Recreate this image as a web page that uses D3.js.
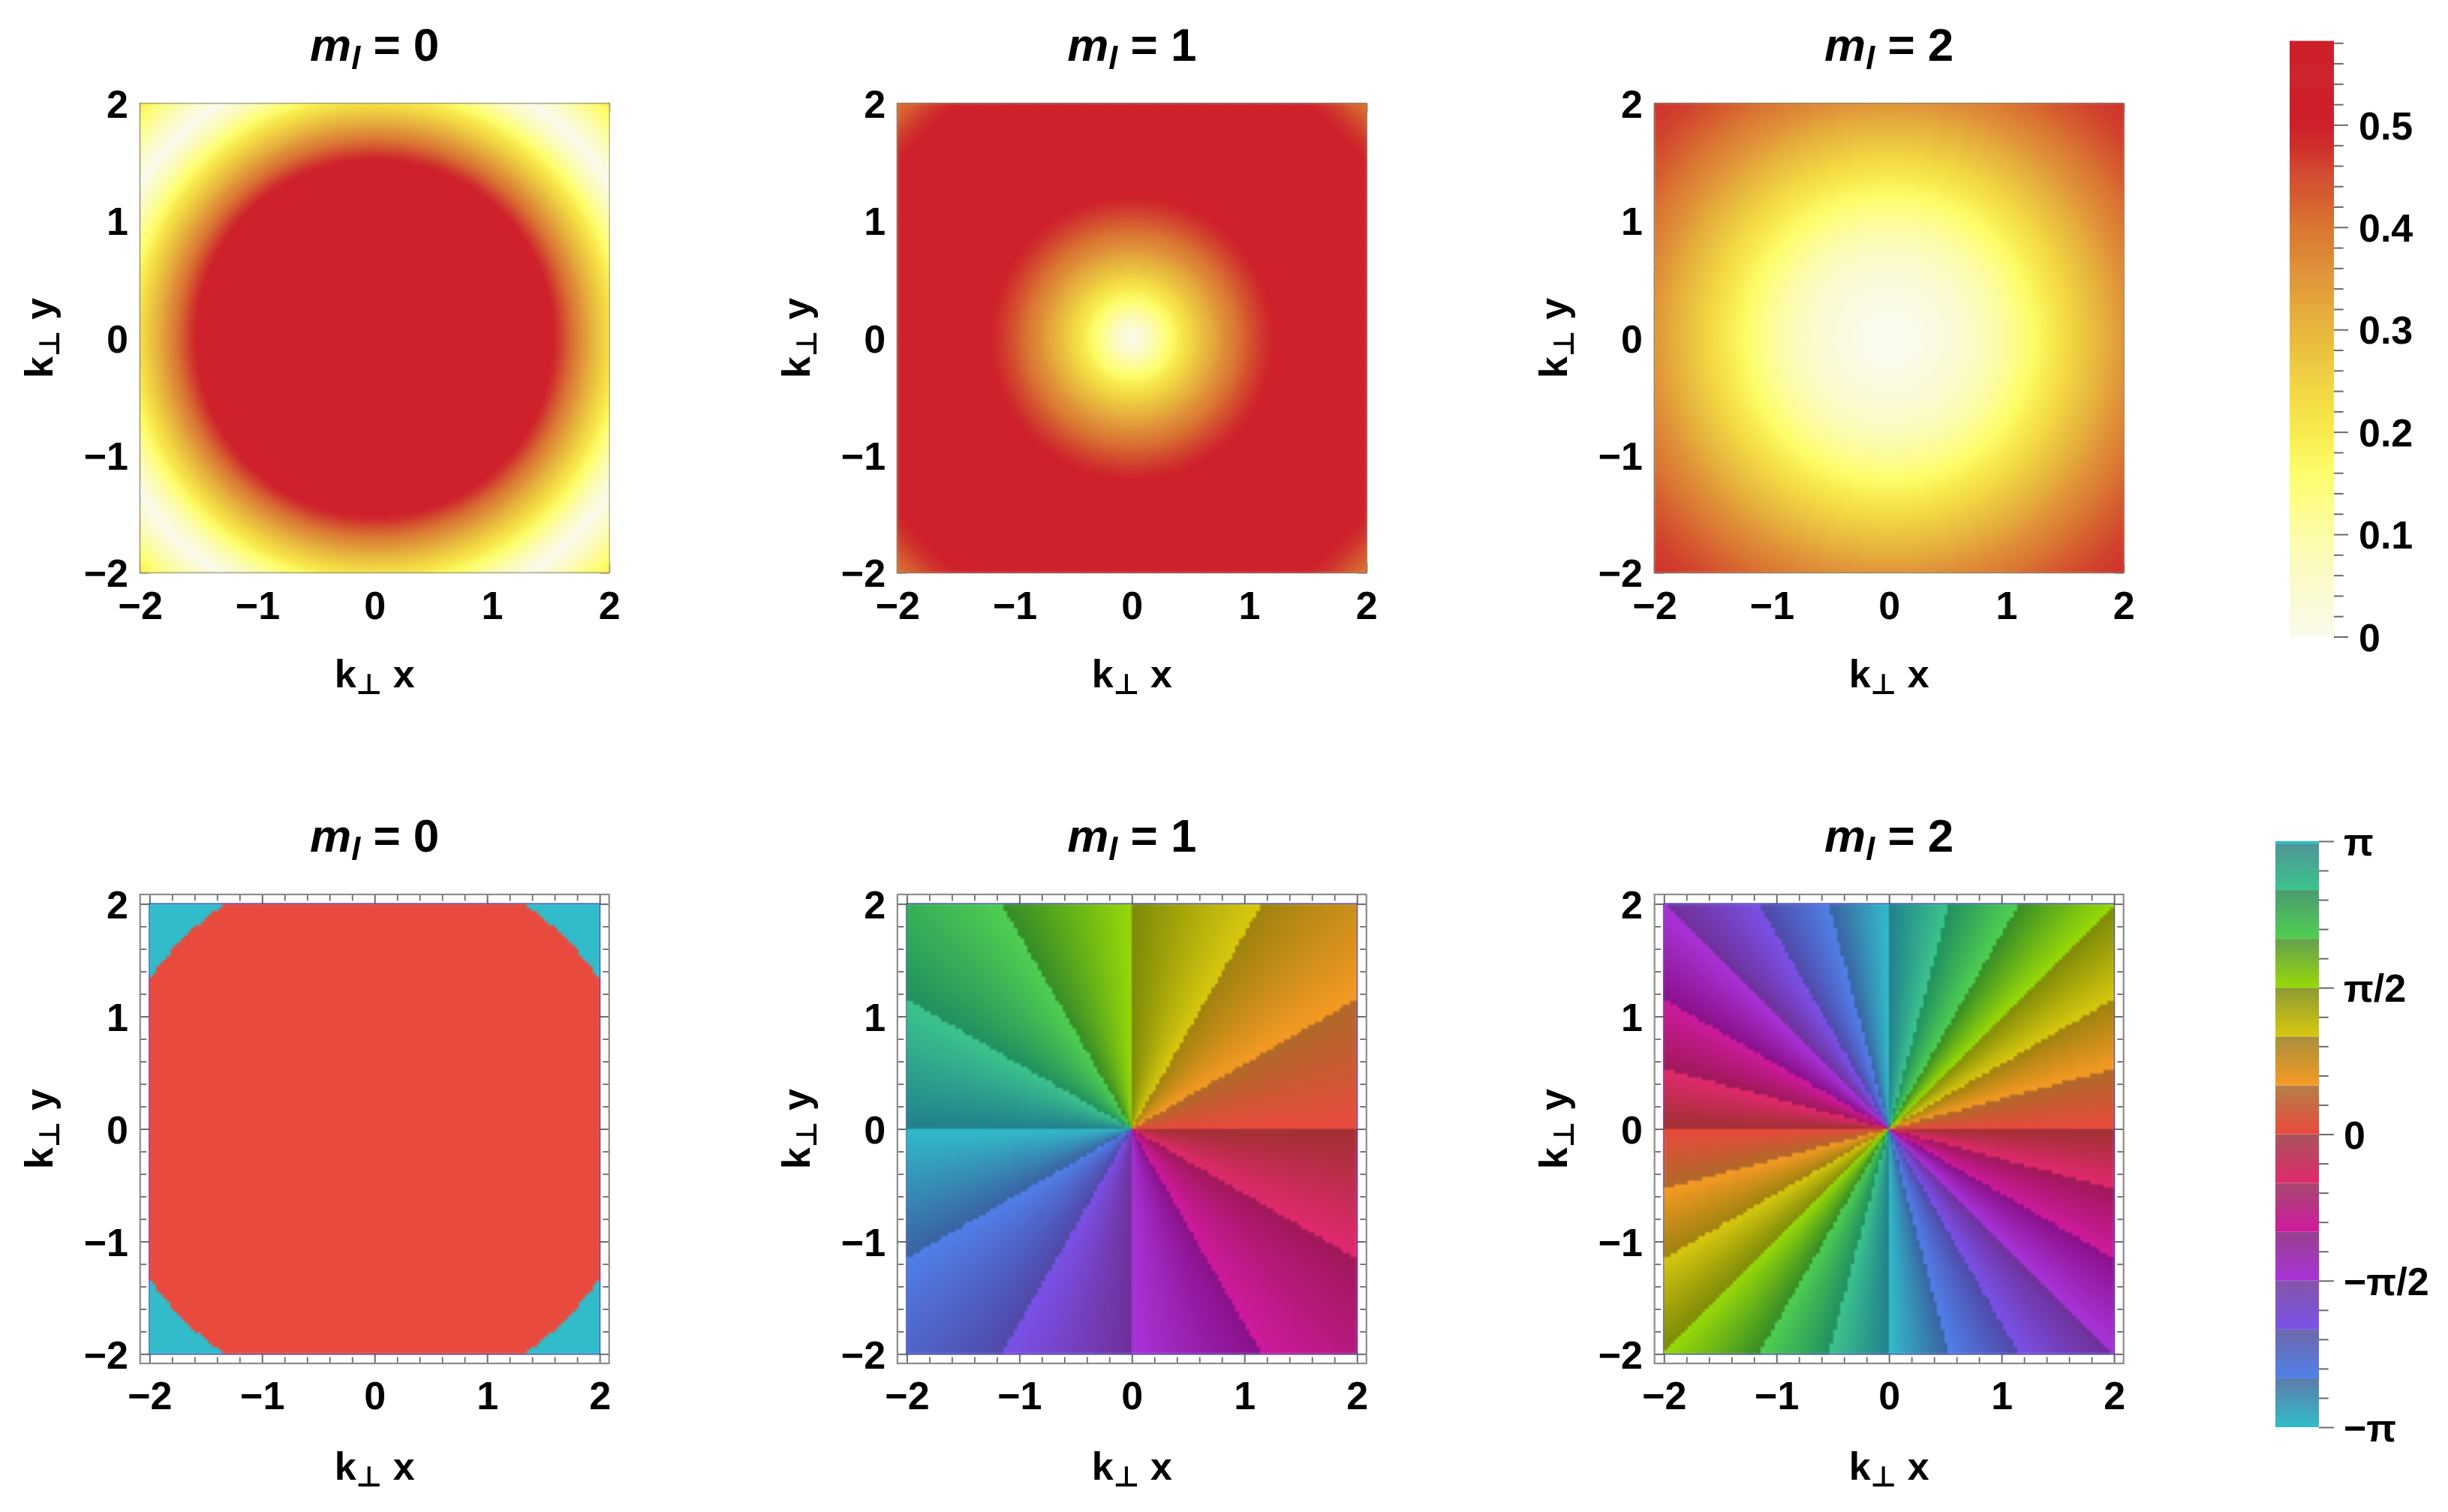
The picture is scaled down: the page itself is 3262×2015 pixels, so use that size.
<!DOCTYPE html>
<html><head><meta charset="utf-8">
<script src="https://cdnjs.cloudflare.com/ajax/libs/d3/7.8.5/d3.min.js"></script>
<style>
html,body{margin:0;padding:0;background:#fff;}
#wrap{position:relative;width:3262px;height:2015px;overflow:hidden;}
canvas{position:absolute;filter:blur(.8px);}
svg{position:absolute;left:0;top:0;filter:blur(.45px);}
text{font-family:"Liberation Sans","DejaVu Sans",Arial,sans-serif;font-weight:700;fill:#000;}
</style></head><body><div id="wrap"></div>
<script>
// ---- values ----
const modes = [0, 1, 2];
const titleNumbers = ["0", "1", "2"];
const axisTicks = [-2, -1, 0, 1, 2];
const minorAxisTicks = [-1.8,-1.6,-1.4,-1.2,-0.8,-0.6,-0.4,-0.2,0.2,0.4,0.6,0.8,1.2,1.4,1.6,1.8];
// amplitude against radius, one list per panel
const radii    = [0,.2,.4,.6,.8,1,1.2,1.4,1.6,1.8,2,2.2,2.4,2.6,2.8,3];
const ampM0    = [1,.99,.96,.912,.846,.765,.671,.567,.455,.34,.224,.11,.003,.097,.185,.26];
const ampM1    = [0,.0995,.196,.287,.369,.44,.498,.542,.57,.582,.577,.556,.52,.471,.41,.339];
const ampM2    = [0,.005,.02,.044,.076,.115,.159,.207,.257,.306,.353,.395,.431,.459,.478,.486];
const phaseFlipRadius = 2.40;
// amplitude colour bar
const ampDomain = [0,.02,.06,.1,.14,.163,.18,.2,.24,.28,.32,.36,.4,.44,.48,.5,.582];
const ampColors = ["#fbfbf0","#fafae0","#fbfbc8","#fcfca8","#fdfd80","#fdfd68","#fbf55f","#f8ea50","#f3d843","#eac240","#e5ab3c","#df9038","#da7733","#d4552f","#cf2f2d","#cf212b","#cf212b"];
const ampBarTicks = [0,.1,.2,.3,.4,.5];
const ampBarMinor = [.02,.04,.06,.08,.12,.14,.16,.18,.22,.24,.26,.28,.32,.34,.36,.38,.42,.44,.46,.48,.52,.54,.56,.58];
// phase bands from -pi upward: colour at the low edge, and at the high edge in plots and in the bar
const bandLow  = ["#32bcc9","#5080e8","#7a52e8","#a833d8","#cd1a9e","#e0296e","#e94a3e","#f69a24","#d9c80f","#98d808","#50cf50","#3cc48c"];
const bandHigh = ["#3a62a4","#5048a8","#6f2f98","#8a1088","#a01858","#a03032","#b06a28","#a0820f","#7c8a08","#358c28","#209060","#20808c"];
const barHigh  = ["#5c7caa","#6e68ac","#8455a8","#98408f","#a84870","#a8545a","#b57f48","#a88f3c","#8c9a32","#63a050","#4c9a70","#4f9398"];
const phaseBarTicks = [-1,-.5,0,.5,1];
const phaseBarLabels = ["−π","−π/2","0","π/2","π"];
const phaseBarMinor = [-.9,-.8,-.7,-.6,-.4,-.3,-.2,-.1,.1,.2,.3,.4,.6,.7,.8,.9];

// ---- layout ----
const colLeft = [186.7, 1195.8, 2204.7], frameSize = 625;
const topRow = 138, bottomRow = 1192, inset = 12.6;
const wrap = d3.select("#wrap");
const svg = wrap.append("svg").attr("width",3262).attr("height",2015);
const FS = 52, lineCol = "#6a6a6a";

const lerp = (a,b,t)=>{const c=d3.rgb(a),d=d3.rgb(b);return [c.r+(d.r-c.r)*t,c.g+(d.g-c.g)*t,c.b+(d.b-c.b)*t];};
const ampColor = d3.scaleLinear().domain(ampDomain).range(ampColors).interpolate(d3.interpolateRgb).clamp(true);
const lutN = 1200, lut = d3.range(lutN+1).map(i=>{const c=d3.rgb(ampColor(i/lutN*.582));return [c.r,c.g,c.b];});
const bandRGB = d3.range(12).map(b=>d3.range(65).map(i=>lerp(bandLow[b],bandHigh[b],i/64)));

function makeCanvas(x,y,s){
  const n=Math.round(s);
  const cv=wrap.append("canvas").attr("width",n).attr("height",n)
    .style("left",x+"px").style("top",y+"px").style("width",s+"px").style("height",s+"px").node();
  const ctx=cv.getContext("2d"), img=ctx.createImageData(n,n);
  return {n,ctx,img};
}
function fillAmp(x,y,s,values,sx,sy){
  const {n,ctx,img}=makeCanvas(x,y,s);
  const prof=d3.scaleLinear().domain(radii).range(values).clamp(true);
  for(let j=0;j<n;j++){const ky=sy.invert(y+j+.5);
    for(let i=0;i<n;i++){const kx=sx.invert(x+i+.5);
      const v=Math.min(prof(Math.hypot(kx,ky)),.582),c=lut[Math.round(v/.582*lutN)],o=(j*n+i)*4;
      img.data[o]=c[0];img.data[o+1]=c[1];img.data[o+2]=c[2];img.data[o+3]=255;}}
  ctx.putImageData(img,0,0);
}
function fillPhase(x,y,s,m,sx,sy){
  const {n,ctx,img}=makeCanvas(x,y,s), cell=4/130, pi=Math.PI, w=pi/6;
  const wrapPi=a=>{while(a>=pi)a-=2*pi;while(a<-pi)a+=2*pi;return a;};
  for(let j=0;j<n;j++){const ky=sy.invert(y+j+.5);
    const cy=(Math.floor(ky/cell)+.5)*cell;
    for(let i=0;i<n;i++){const kx=sx.invert(x+i+.5);
      const cx=(Math.floor(kx/cell)+.5)*cell;let c;
      if(m===0){ c=bandRGB[Math.hypot(cx,cy)<phaseFlipRadius?6:0][0]; }
      else{
        const ps=wrapPi(m*Math.atan2(cy,cx)), p=wrapPi(m*Math.atan2(ky,kx));
        const b=Math.min(11,Math.floor((ps+pi)/w)), st=-pi+b*w;
        let d=p-st; if(d>pi)d-=2*pi; if(d<-pi)d+=2*pi;
        const f=Math.max(0,Math.min(1,d/w));
        c=bandRGB[b][Math.round(f*64)];
      }
      const o=(j*n+i)*4;img.data[o]=c[0];img.data[o+1]=c[1];img.data[o+2]=c[2];img.data[o+3]=255;}}
  ctx.putImageData(img,0,0);
}
const styleAxis=(g,sw)=>{g.select(".domain").remove();g.selectAll("line").attr("stroke",lineCol).attr("stroke-width",sw);};
const intFmt=d3.format("d");

function panel(col,rowY,ins,lblGap,kind){
  const fx=colLeft[col], px=fx+ins, py=rowY+ins, ps=frameSize-2*ins;
  const sx=d3.scaleLinear().domain([-2,2]).range([px,px+ps]);
  const sy=d3.scaleLinear().domain([-2,2]).range([py+ps,py]);
  if(kind==="amp") fillAmp(px,py,ps,[ampM0,ampM1,ampM2][col],sx,sy);
  else fillPhase(px,py,ps,modes[col],sx,sy);
  const g=svg.append("g");
  const smallLen=ins?8.5:7;
  const sides=[[d3.axisBottom,sx,`translate(0,${rowY+frameSize})`],[d3.axisTop,sx,`translate(0,${rowY})`],
               [d3.axisLeft,sy,`translate(${fx},0)`],[d3.axisRight,sy,`translate(${fx+frameSize},0)`]];
  sides.forEach(([ax,sc,tr])=>{
    g.append("g").attr("transform",tr).call(ax(sc).tickValues(axisTicks).tickSize(-(ins?ins:12)).tickFormat("")).call(styleAxis,2);
    g.append("g").attr("transform",tr).call(ax(sc).tickValues(minorAxisTicks).tickSize(-smallLen).tickFormat("")).call(styleAxis,1.8);
  });
  g.append("rect").attr("x",fx).attr("y",rowY).attr("width",frameSize).attr("height",frameSize)
    .attr("fill","none").attr("stroke",kind==="amp"?"#84846a":"#8c8c8c").attr("stroke-width",2.2);
  if(ins) g.append("rect").attr("x",px).attr("y",py).attr("width",ps).attr("height",ps)
    .attr("fill","none").attr("stroke","#4a4ab4").attr("stroke-width",2.2);
  // tick labels
  const xl=g.append("g").attr("transform",`translate(0,${rowY+frameSize})`)
    .call(d3.axisBottom(sx).tickValues(axisTicks).tickSize(0).tickFormat(intFmt));
  xl.select(".domain").remove();
  xl.selectAll("text").attr("y",lblGap).attr("dy",0).style("font-size",FS+"px").attr("text-anchor","middle");
  const yl=g.append("g").attr("transform",`translate(${fx},0)`)
    .call(d3.axisLeft(sy).tickValues(axisTicks).tickSize(0).tickPadding(15.7).tickFormat(intFmt));
  yl.select(".domain").remove();
  yl.selectAll("text").attr("dy","0.36em").style("font-size",FS+"px");
  // title
  const cx=fx+frameSize/2, tY=rowY-57;
  const t=g.append("text").attr("x",cx).attr("y",tY).attr("text-anchor","middle").style("font-size","62px");
  t.append("tspan").attr("font-style","italic").text("m");
  t.append("tspan").attr("font-style","italic").attr("dy",11).style("font-size","43px").text("l");
  t.append("tspan").attr("dy",-11).text(" = "+titleNumbers[col]);
  // axis titles
  const label=(sel,end)=>{
    sel.append("tspan").text("k");
    sel.append("tspan").attr("dy",9).style("font-size","38px").text("⊥");
    sel.append("tspan").attr("dy",-9).text(" "+end);
  };
  const xt=g.append("text").attr("x",cx).attr("y",rowY+frameSize+(kind==="amp"?153:155))
    .attr("text-anchor","middle").style("font-size",FS+"px");
  label(xt,"x");
  const yt=g.append("text").attr("text-anchor","middle").style("font-size",FS+"px")
    .attr("transform",`translate(${fx-116.5},${rowY+frameSize/2}) rotate(-90)`);
  label(yt,"y");
}
modes.forEach((m,i)=>{panel(i,topRow,0,62,"amp");panel(i,bottomRow,inset,61,"phase");});

// ---- amplitude colour bar ----
const yA=d3.scaleLinear().domain([0,.582]).range([848.5,54.5]);
const ax0=3051, ax1=3110;
const barG=svg.append("g");
barG.selectAll("rect.a").data(d3.range(0,800)).join("rect")
  .attr("x",ax0).attr("width",ax1-ax0)
  .attr("y",d=>yA(.582*(d+1)/800)).attr("height",d=>yA(.582*d/800)-yA(.582*(d+1)/800)+.7)
  .attr("fill",d=>ampColor(.582*(d+.5)/800));
const aTick=barG.append("g").attr("transform",`translate(${ax1},0)`)
  .call(d3.axisRight(yA).tickValues(ampBarTicks).tickSize(19).tickPadding(14).tickFormat(d=>d===0?"0":d3.format(".1f")(d)));
aTick.call(styleAxis,2);
aTick.selectAll("text").attr("dy","0.36em").style("font-size",FS+"px");
barG.append("g").attr("transform",`translate(${ax1},0)`)
  .call(d3.axisRight(yA).tickValues(ampBarMinor).tickSize(12.7).tickFormat("")).call(styleAxis,2);

// ---- phase colour bar ----
const yP=d3.scaleLinear().domain([-1,1]).range([1902,1121]);
const px0=3032, px1=3090, defs=svg.append("defs");
bandLow.forEach((c,i)=>{
  const lg=defs.append("linearGradient").attr("id","band"+i).attr("x1",0).attr("x2",0).attr("y1",1).attr("y2",0);
  lg.append("stop").attr("offset",0).attr("stop-color",c);
  lg.append("stop").attr("offset",1).attr("stop-color",barHigh[i]);
});
const bandEdge=d=>-1+d/6;
barG.selectAll("rect.p").data(d3.range(12)).join("rect")
  .attr("x",px0).attr("width",px1-px0)
  .attr("y",d=>yP(bandEdge(d+1))).attr("height",d=>yP(bandEdge(d))-yP(bandEdge(d+1)))
  .attr("fill",d=>`url(#band${d})`);
barG.append("rect").attr("x",px0).attr("width",px1-px0).attr("y",yP(1)).attr("height",yP(.99)-yP(1)).attr("fill",bandLow[0]);
const pTick=barG.append("g").attr("transform",`translate(${px1},0)`)
  .call(d3.axisRight(yP).tickValues(phaseBarTicks).tickSize(20).tickPadding(13)
    .tickFormat((d,i)=>phaseBarLabels[i]));
pTick.call(styleAxis,2);
pTick.selectAll("text").attr("dy","0.36em").style("font-size",FS+"px");
barG.append("g").attr("transform",`translate(${px1},0)`)
  .call(d3.axisRight(yP).tickValues(phaseBarMinor).tickSize(12.7).tickFormat("")).call(styleAxis,2);
</script></body></html>
